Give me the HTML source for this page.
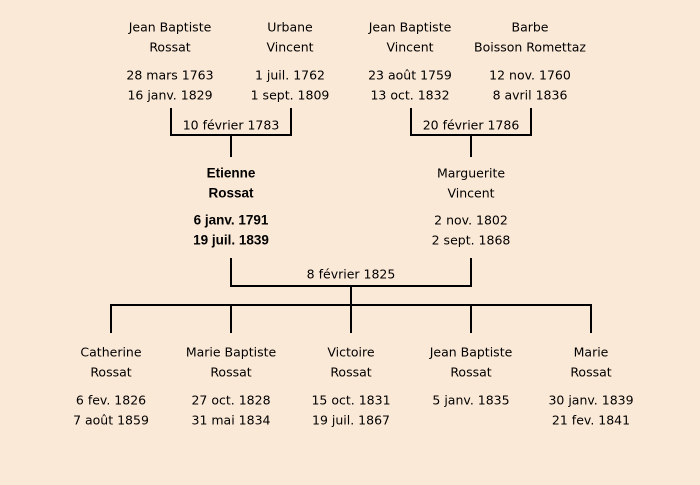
<!DOCTYPE html>
<html><head><meta charset="utf-8"><style>
html,body{margin:0;padding:0;background:#FBE9D7;}
svg{display:block}
text{font-family:"DejaVu Sans","Liberation Sans",sans-serif;font-size:12.5px;fill:#000;text-anchor:middle;dominant-baseline:central}
.b{font-family:"Liberation Sans",sans-serif;font-weight:bold;font-size:13.5px}
line{stroke:#000;stroke-width:2}
</style></head><body>
<svg width="700" height="485" viewBox="0 0 700 485">
<rect width="700" height="485" fill="#FBE9D7"/>
<text x="170" y="27">Jean Baptiste</text><text x="170" y="47">Rossat</text>
<text x="170" y="75">28 mars 1763</text><text x="170" y="95">16 janv. 1829</text>
<text x="290" y="27">Urbane</text><text x="290" y="47">Vincent</text>
<text x="290" y="75">1 juil. 1762</text><text x="290" y="95">1 sept. 1809</text>
<text x="410" y="27">Jean Baptiste</text><text x="410" y="47">Vincent</text>
<text x="410" y="75">23 août 1759</text><text x="410" y="95">13 oct. 1832</text>
<text x="530" y="27">Barbe</text><text x="530" y="47">Boisson Romettaz</text>
<text x="530" y="75">12 nov. 1760</text><text x="530" y="95">8 avril 1836</text>
<line x1="171" y1="108" x2="171" y2="136"/><line x1="291" y1="108" x2="291" y2="136"/>
<line x1="170" y1="135" x2="292" y2="135"/><line x1="231" y1="135" x2="231" y2="157"/>
<text x="231" y="125">10 février 1783</text>
<line x1="411" y1="108" x2="411" y2="136"/><line x1="531" y1="108" x2="531" y2="136"/>
<line x1="410" y1="135" x2="532" y2="135"/><line x1="471" y1="135" x2="471" y2="157"/>
<text x="471" y="125">20 février 1786</text>
<text class="b" x="231" y="173">Etienne</text><text class="b" x="231" y="193">Rossat</text>
<text class="b" x="231" y="220">6 janv. 1791</text><text class="b" x="231" y="240">19 juil. 1839</text>
<text x="471" y="173">Marguerite</text><text x="471" y="193">Vincent</text>
<text x="471" y="220">2 nov. 1802</text><text x="471" y="240">2 sept. 1868</text>
<line x1="231" y1="258" x2="231" y2="287"/><line x1="471" y1="258" x2="471" y2="287"/>
<line x1="230" y1="286" x2="472" y2="286"/><line x1="351" y1="286" x2="351" y2="305"/>
<text x="351" y="274">8 février 1825</text>
<line x1="110" y1="305" x2="592" y2="305"/>
<line x1="111" y1="305" x2="111" y2="333"/><line x1="231" y1="305" x2="231" y2="333"/>
<line x1="351" y1="305" x2="351" y2="333"/><line x1="471" y1="305" x2="471" y2="333"/>
<line x1="591" y1="305" x2="591" y2="333"/>
<text x="111" y="352">Catherine</text><text x="111" y="372">Rossat</text>
<text x="111" y="400">6 fev. 1826</text><text x="111" y="420">7 août 1859</text>
<text x="231" y="352">Marie Baptiste</text><text x="231" y="372">Rossat</text>
<text x="231" y="400">27 oct. 1828</text><text x="231" y="420">31 mai 1834</text>
<text x="351" y="352">Victoire</text><text x="351" y="372">Rossat</text>
<text x="351" y="400">15 oct. 1831</text><text x="351" y="420">19 juil. 1867</text>
<text x="471" y="352">Jean Baptiste</text><text x="471" y="372">Rossat</text>
<text x="471" y="400">5 janv. 1835</text>
<text x="591" y="352">Marie</text><text x="591" y="372">Rossat</text>
<text x="591" y="400">30 janv. 1839</text><text x="591" y="420">21 fev. 1841</text>
</svg>
</body></html>
